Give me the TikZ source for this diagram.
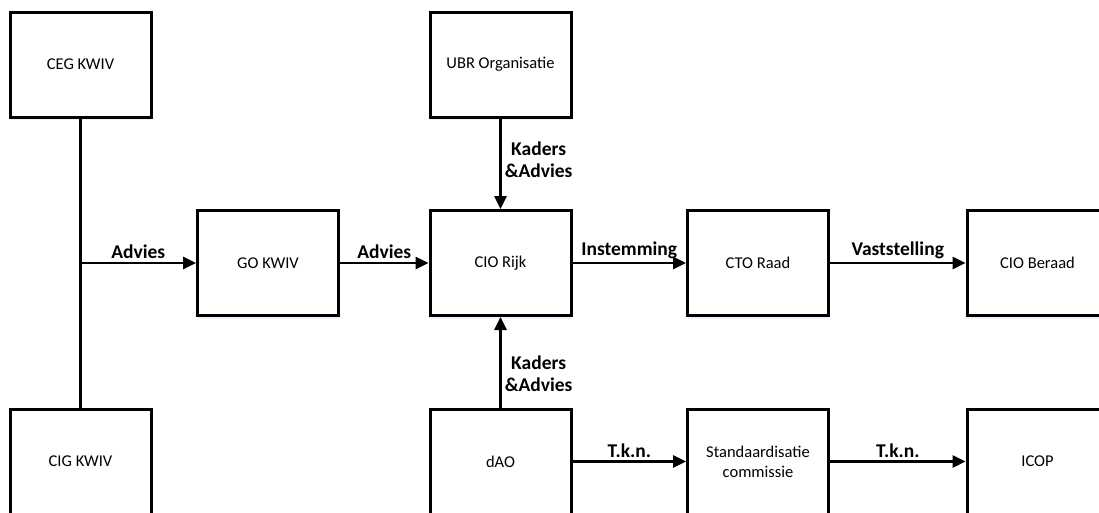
\documentclass[tikz,border=0pt]{standalone}
\usepackage{fontspec}
\setmainfont{Carlito}
\usetikzlibrary{arrows.meta,shadows}
\tikzset{
  box/.style={draw, line width=3pt, fill=white, minimum width=141pt, minimum height=105pt,
    align=center, font=\fontsize{16.5}{20}\selectfont,
    drop shadow={opacity=0.25, fill=blue!25, shadow xshift=0pt, shadow yshift=-3pt}},
  arr/.style={line width=2.6pt, -{Triangle[length=13pt,width=12pt]}},
  ln/.style={line width=2.6pt},
  lbl/.style={font=\bfseries\fontsize{19.5}{22}\selectfont, align=center, inner sep=3pt}
}
\begin{document}
\begin{tikzpicture}[x=1pt,y=-1pt]
\useasboundingbox (0,0) rectangle (1099,512);
\clip (0,0) rectangle (1099,512);
\fill[white] (0,0) rectangle (1099,512);
\node[box] (ceg) at (80.5,64.5) {CEG KWIV};
\node[box] (cig) at (80.5,461.5) {CIG KWIV};
\node[box] (ubr) at (500.5,64.5) {UBR Organisatie};
\node[box] (go) at (268,263) {GO KWIV};
\node[box] (cio) at (500.5,263) {CIO Rijk};
\node[box] (cto) at (758,263) {CTO Raad};
\node[box] (ciob) at (1037.5,263) {CIO Beraad};
\node[box] (dao) at (500.5,461.5) {dAO};
\node[box] (std) at (758,461.5) {Standaardisatie\\commissie};
\node[box] (icop) at (1037.5,461.5) {ICOP};
\coordinate (j) at (ceg.south |- go.west);
\draw[ln] (ceg.south) -- (cig.north);
\draw[arr] (j) -- node[lbl, above] {Advies} (go.west);
\draw[arr] (go.east) -- node[lbl, above] {Advies} (cio.west);
\draw[arr] (cio.east) -- node[lbl, above] {Instemming} (cto.west);
\draw[arr] (cto.east) -- node[lbl, above] {Vaststelling} (ciob.west);
\draw[arr] (ubr.south) -- node[lbl, right, pos=0.45] {Kaders\\\&Advies} (cio.north);
\draw[arr] (dao.north) -- node[lbl, right, pos=0.37] {Kaders\\\&Advies} (cio.south);
\draw[arr] (dao.east) -- node[lbl, above] {T.k.n.} (std.west);
\draw[arr] (std.east) -- node[lbl, above] {T.k.n.} (icop.west);
\end{tikzpicture}
\end{document}
